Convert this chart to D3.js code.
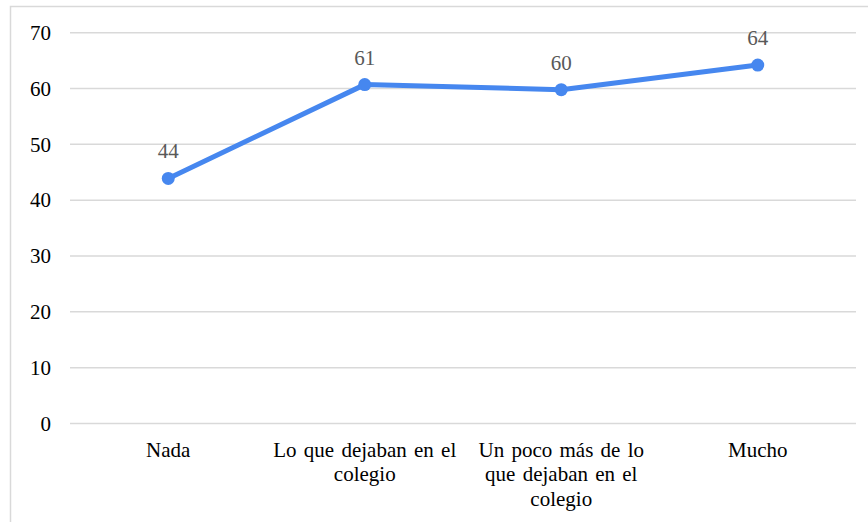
<!DOCTYPE html>
<html><head><meta charset="utf-8">
<script src="https://cdn.jsdelivr.net/npm/d3@7"></script>
<style>
body{margin:0;background:#fff;}
svg{display:block;}
svg text{font-family:"Liberation Serif","Times New Roman","DejaVu Serif",serif !important;}
</style></head>
<body>
<svg id="chart" width="868" height="522"></svg>
<script>
const categories = ["Nada", "Lo que dejaban en el colegio", "Un poco más de lo que dejaban en el colegio", "Mucho"];
const values = [43.9, 60.7, 59.8, 64.2];
const valueLabels = ["44", "61", "60", "64"];
const yTicks = [0, 10, 20, 30, 40, 50, 60, 70];

const svg = d3.select("#chart");
const W = 868, H = 522;
const margin = {left: 70, right: 12, top: 32.7, bottom: 98.5};
const x = d3.scaleBand().domain(categories).range([margin.left, W - margin.right]);
const y = d3.scaleLinear().domain([0, 70]).range([H - margin.bottom, margin.top]);

svg.append("rect").attr("x", 10.5).attr("y", 6.5).attr("width", 900).attr("height", 600)
  .attr("fill", "#fff").attr("stroke", "#d9d9d9").attr("stroke-width", 1.5);

// gridlines
svg.append("g").selectAll("line").data(yTicks).join("line")
  .attr("x1", margin.left).attr("x2", W - margin.right)
  .attr("y1", d => y(d)).attr("y2", d => y(d))
  .attr("stroke", "#d9d9d9").attr("stroke-width", 1.5);

// y axis labels
const yAxis = d3.axisLeft(y).tickValues(yTicks).tickSize(0).tickPadding(19);
const yg = svg.append("g").attr("transform", `translate(${margin.left},0)`).call(yAxis);
yg.select(".domain").remove();
yg.attr("font-family", null);
yg.selectAll("text").attr("font-size", 21).attr("fill", "#000");

// x axis labels
const xAxis = d3.axisBottom(x).tickSize(0).tickPadding(0);
const xg = svg.append("g").attr("transform", `translate(0,${y(0)})`).call(xAxis);
xg.select(".domain").remove();
xg.attr("font-family", null);
xg.selectAll("text")
  .attr("font-size", 21).attr("fill", "#000").attr("dy", null).attr("y", 0)
  .style("word-spacing", "2px")
  .each(function(d) {
    const t = d3.select(this);
    const words = d.split(" ");
    t.text(null);
    const maxW = 190;
    let line = [];
    let lines = [];
    let ts = t.append("tspan");
    words.forEach(w => {
      line.push(w);
      ts.text(line.join(" "));
      if (ts.node().getComputedTextLength() > maxW && line.length > 1) {
        line.pop();
        lines.push(line.join(" "));
        line = [w];
        ts.text(w);
      }
    });
    lines.push(line.join(" "));
    t.text(null);
    lines.forEach((l, i) => {
      t.append("tspan").attr("x", 0).attr("y", 33 + i * 24.5).text(l);
    });
  });

// line
const pts = categories.map((c, i) => ({c, v: values[i], lab: valueLabels[i]}));
svg.append("path").datum(pts)
  .attr("d", d3.line().x(d => x(d.c) + x.bandwidth() / 2).y(d => y(d.v)))
  .attr("fill", "none").attr("stroke", "#4687ef").attr("stroke-width", 5)
  .attr("stroke-linejoin", "round").attr("stroke-linecap", "round");

svg.append("g").selectAll("circle").data(pts).join("circle")
  .attr("cx", d => x(d.c) + x.bandwidth() / 2).attr("cy", d => y(d.v))
  .attr("r", 6.5).attr("fill", "#4687ef");

svg.append("g").selectAll("text").data(pts).join("text")
  .attr("x", d => x(d.c) + x.bandwidth() / 2).attr("y", d => y(d.v) - 20)
  .attr("text-anchor", "middle")
  .attr("font-size", 21).attr("fill", "#595959")
  .text(d => d.lab);
</script>
</body></html>
